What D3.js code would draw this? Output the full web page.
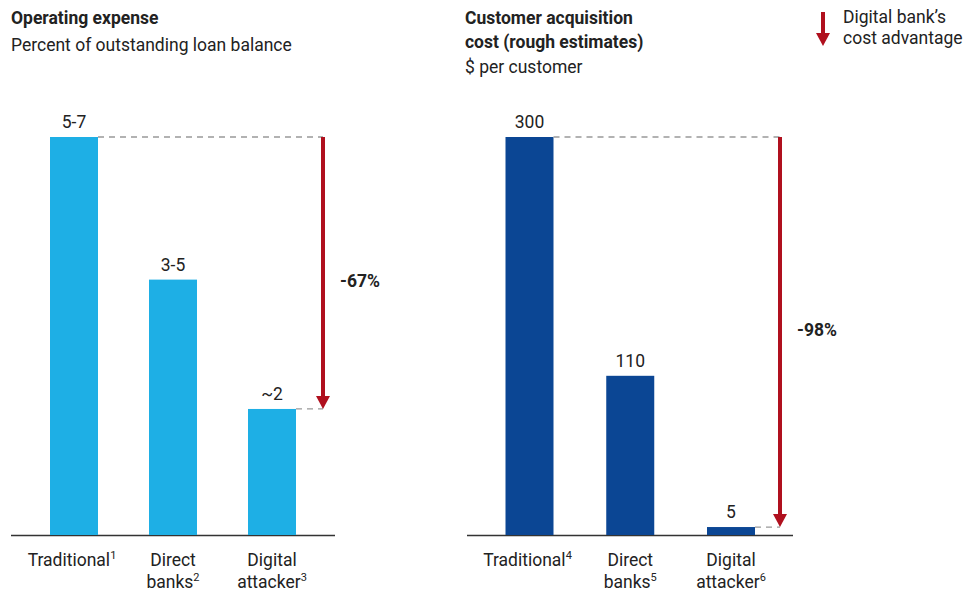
<!DOCTYPE html>
<html lang="en">
  <head>
    <meta charset="utf-8">
    <title>Digital bank cost advantage</title>
    <script src="https://cdn.jsdelivr.net/npm/d3@7"></script>
    <style>
     body { margin: 0; background: #fff; }
     svg { display: block; font-family: "Roboto", "Liberation Sans Narrow", sans-serif; fill: #222; }
    </style>
  </head>
  <body>
    <script>
     // data
     let categories = [["Traditional", "1"], ["Direct", "banks", "2"], ["Digital", "attacker", "3"]];
     let categories2 = [["Traditional", "4"], ["Direct", "banks", "5"], ["Digital", "attacker", "6"]];
     let opexLabels = ["5-7", "3-5", "~2"];
     let opexValues = [6, 3.85, 1.9];          // bar heights as drawn (% of loan balance)
     let cacLabels = ["300", "110", "5"];
     let cacValues = [300, 120, 6];            // bar heights as drawn ($ per customer)
     let advantage = ["-67%", "-98%"];

     let w = 966, h = 593;
     let baseY = 535, topY = 137;
     let fs = 17.5;
     let svg = d3.select("body").append("svg").attr("width", w).attr("height", h);

     function panel(opt) {
       let g = svg.append("g");
       let x = d3.scalePoint().domain(d3.range(opt.values.length)).range(opt.xr);
       let y = d3.scaleLinear().domain([0, d3.max(opt.values)]).range([baseY, topY]);
       let bw = 48;

       // baseline
       g.append("line")
        .attr("x1", opt.axis[0]).attr("x2", opt.axis[1])
        .attr("y1", baseY + 0.5).attr("y2", baseY + 0.5)
        .attr("stroke", "#333").attr("stroke-width", 1.3);

       g.selectAll("rect.bar")
        .data(opt.values)
        .enter()
        .append("rect")
        .attr("class", "bar")
        .attr("x", (d, i) => x(i) - bw / 2)
        .attr("y", d => y(d))
        .attr("width", bw)
        .attr("height", d => baseY - y(d))
        .attr("fill", opt.color);

       g.selectAll("text.val")
        .data(opt.labels)
        .enter()
        .append("text")
        .attr("class", "val")
        .attr("x", (d, i) => x(i))
        .attr("y", (d, i) => y(opt.values[i]) - 9)
        .attr("text-anchor", "middle")
        .attr("font-size", fs)
        .text(d => d);

       // category labels with superscript note numbers
       opt.cats.forEach((c, i) => {
         let t = g.append("text")
                  .attr("x", x(i) - (i == 0 ? 2 : 0))
                  .attr("y", 566)
                  .attr("text-anchor", "middle")
                  .attr("font-size", fs);
         let words = c.slice(0, -1);
         words.forEach((wd, j) => {
           let s = t.append("tspan").text(wd);
           if (j > 0) s.attr("x", x(i)).attr("dy", 22);
         });
         t.append("tspan").attr("font-size", 11).attr("dy", -7).text(c[c.length - 1]);
       });

       // dashed guides and arrow
       let last = opt.values.length - 1;
       let dash = [[x(0) + bw / 2, y(opt.values[0])], [x(last) + bw / 2, y(opt.values[last])]];
       dash.forEach(p => {
         g.append("line")
          .attr("x1", p[0]).attr("x2", opt.arrowX)
          .attr("y1", p[1]).attr("y2", p[1])
          .attr("stroke", "#999").attr("stroke-width", 1.3)
          .attr("stroke-dasharray", "6,5");
       });
       let yEnd = y(opt.values[last]);
       g.append("rect")
        .attr("x", opt.arrowX - 2).attr("y", y(opt.values[0]))
        .attr("width", 4).attr("height", yEnd - y(opt.values[0]) - 12)
        .attr("fill", "#b0101e");
       g.append("path")
        .attr("d", `M${opt.arrowX - 7},${yEnd - 13}L${opt.arrowX + 7},${yEnd - 13}L${opt.arrowX},${yEnd}Z`)
        .attr("fill", "#b0101e");
       g.append("text")
        .attr("x", opt.arrowX + 17).attr("y", opt.pctY)
        .attr("font-size", fs).attr("font-weight", "bold")
        .text(opt.pct);
     }

     panel({values: opexValues, labels: opexLabels, cats: categories, xr: [74, 272],
            axis: [11, 335], color: "#1eafe5", arrowX: 323, pct: advantage[0], pctY: 287});
     panel({values: cacValues, labels: cacLabels, cats: categories2, xr: [529.5, 731],
            axis: [467, 793], color: "#0b4694", arrowX: 780, pct: advantage[1], pctY: 336});

     // titles
     function lines(x, y0, arr, bold) {
       arr.forEach((s, i) => {
         svg.append("text").attr("x", x).attr("y", y0 + i * 24)
            .attr("font-size", fs).attr("font-weight", bold ? "bold" : "normal")
            .text(s);
       });
     }
     lines(11, 24, ["Operating expense"], true);
     lines(11, 51, ["Percent of outstanding loan balance"], false);
     lines(465, 24, ["Customer acquisition", "cost (rough estimates)"], true);
     lines(465, 73, ["$ per customer"], false);

     // legend
     svg.append("rect").attr("x", 821).attr("y", 12).attr("width", 4).attr("height", 22).attr("fill", "#b0101e");
     svg.append("path").attr("d", "M816,33L830,33L823,46Z").attr("fill", "#b0101e");
     lines(843, 23, ["Digital bank\u2019s"], false);
     lines(843, 44, ["cost advantage"], false);
    </script>
  </body>
</html>
